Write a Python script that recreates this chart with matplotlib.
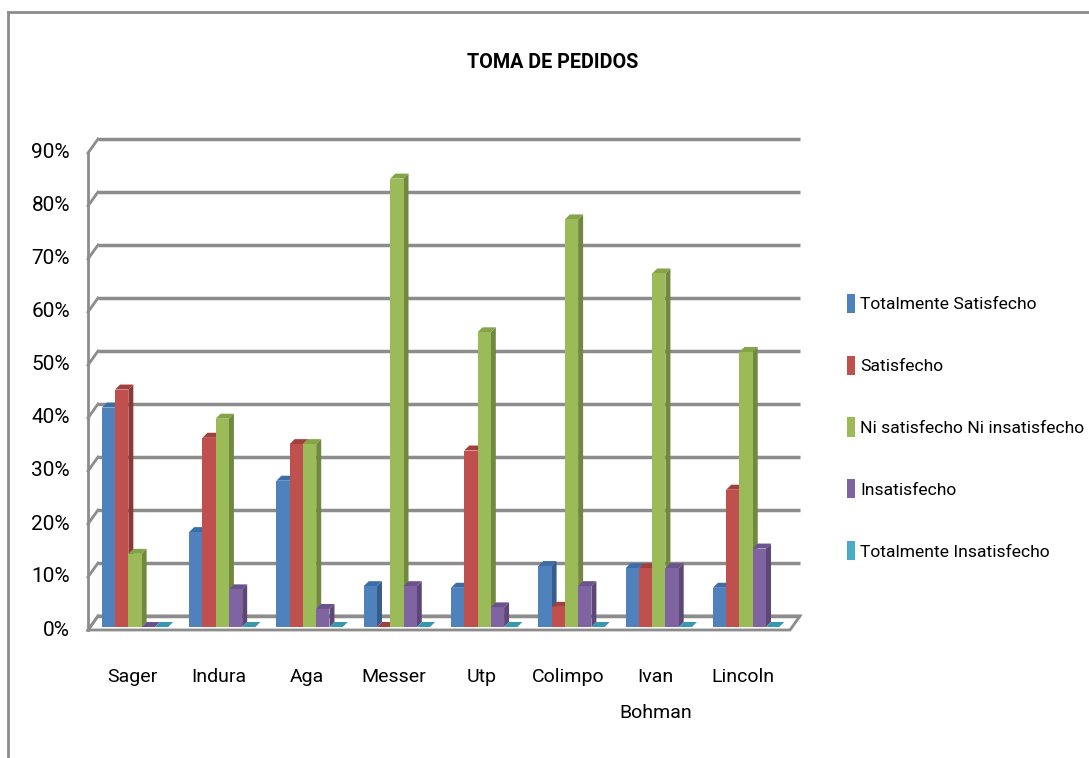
import numpy as np
import matplotlib.pyplot as plt
from matplotlib.patches import Polygon, Patch
from matplotlib.lines import Line2D

# datos (porcentajes)
empresas = ['Sager', 'Indura', 'Aga', 'Messer', 'Utp', 'Colimpo', 'Ivan\nBohman', 'Lincoln']
series = ['Totalmente Satisfecho', 'Satisfecho', 'Ni satisfecho Ni insatisfecho',
          'Insatisfecho', 'Totalmente Insatisfecho']
tot_satisfecho = [41.4, 17.9, 27.6, 7.7, 7.4, 11.5, 11.1, 7.4]
satisfecho = [44.8, 35.7, 34.5, 0.0, 33.3, 3.8, 11.1, 25.9]
ni_ni = [13.8, 39.3, 34.5, 84.6, 55.6, 76.9, 66.7, 51.9]
insatisfecho = [0.0, 7.1, 3.4, 7.7, 3.7, 7.7, 11.1, 14.8]
tot_insatisfecho = [0, 0, 0, 0, 0, 0, 0, 0]
ticks = [0, 10, 20, 30, 40, 50, 60, 70, 80, 90]

valores = [tot_satisfecho, satisfecho, ni_ni, insatisfecho, tot_insatisfecho]
frente = ['#4F81BD', '#C0504D', '#9BBB59', '#8064A2', '#4BACC6']
arriba = ['#3D6DA6', '#A33F3C', '#84A447', '#6A528C', '#3A97B0']
lado = ['#385D8A', '#8C3836', '#71893F', '#5C4776', '#357D91']
gris = '#8C8C8C'

plt.rcParams['font.family'] = ['Roboto', 'DejaVu Sans']

W_PX, H_PX = 1089, 758
fig = plt.figure(figsize=(W_PX / 100, H_PX / 100), dpi=100)
izq, der, abajo, top = 88, 790, 630, 153
ax = fig.add_axes([izq / W_PX, 1 - abajo / H_PX, (der - izq) / W_PX, (abajo - top) / H_PX])
x0, x1 = -0.538, 7.503
ax.set_xlim(x0, x1)
ax.set_ylim(0, 90)
ax.axis('off')

ux = (x1 - x0) / (der - izq)   # unidades x por pixel
uy = 90 / (abajo - top)        # unidades y por pixel
prof_x, prof_y = 10 * ux, 14 * uy

# piso
piso = Polygon([(x0, 0), (x1, 0), (x1 + prof_x, prof_y), (x0 + prof_x, prof_y)],
               closed=True, facecolor='white', edgecolor=gris, lw=2, clip_on=False, zorder=1)
ax.add_patch(piso)

# lineas de division (pared de fondo)
for v in ticks:
    ax.plot([x0 + prof_x, x1 + prof_x], [v + prof_y, v + prof_y], color=gris, lw=2.5,
            solid_capstyle='butt', clip_on=False, zorder=1)
    ax.plot([x0, x0 + prof_x], [v, v + prof_y], color=gris, lw=2, clip_on=False, zorder=1)
ax.plot([x0, x0], [0, 90], color=gris, lw=2, clip_on=False, zorder=1)

# barras pseudo 3D
w = 0.152
base = 3 * uy
dx, dy = 5 * ux, 5 * uy
x = np.arange(len(empresas))
z = 2
for i in range(len(empresas)):
    for k in range(len(series)):
        xc = x[i] + (k - 2) * w
        v = valores[k][i]
        xl, xr = xc - w / 2, xc + w / 2
        yt = base + v
        ax.add_patch(Polygon([(xr, base), (xr, yt), (xr + dx, yt + dy), (xr + dx, base + dy)],
                             closed=True, facecolor=lado[k], edgecolor='none', zorder=z, clip_on=False))
        ax.add_patch(Polygon([(xl, yt), (xr, yt), (xr + dx, yt + dy), (xl + dx, yt + dy)],
                             closed=True, facecolor=arriba[k], edgecolor='none', zorder=z, clip_on=False))
        ax.bar(xc, v, width=w, bottom=base, color=frente[k], edgecolor='none', zorder=z + 0.5,
               clip_on=False)
        z += 1

# etiquetas de ejes
for v in ticks:
    ax.text(x0 - 18 * ux, v, f'{v}%', ha='right', va='center', fontsize=15, color='black')
for i, nombre in enumerate(empresas):
    ax.text(x[i] - 3 * ux, -38 * uy, nombre, ha='center', va='top', fontsize=14,
            linespacing=2.3, color='black')

fig.text(553 / W_PX, 1 - 62 / H_PX, 'TOMA DE PEDIDOS', ha='center', va='center',
         fontsize=14.2, fontweight='bold')

handles = [Patch(facecolor=c, edgecolor='none') for c in frente]
fig.legend(handles, series, loc='center left', bbox_to_anchor=(831 / W_PX, 1 - 427 / H_PX),
           frameon=False, fontsize=12.6, handlelength=0.45, handleheight=1.3,
           handletextpad=0.3, labelspacing=2.45)

# marco exterior
fig.add_artist(Line2D([8 / W_PX, 8 / W_PX], [0, 1 - 12 / H_PX], color=gris, lw=2))
fig.add_artist(Line2D([8 / W_PX, 1], [1 - 12 / H_PX, 1 - 12 / H_PX], color=gris, lw=2))

fig.savefig('out.png', dpi=100)
